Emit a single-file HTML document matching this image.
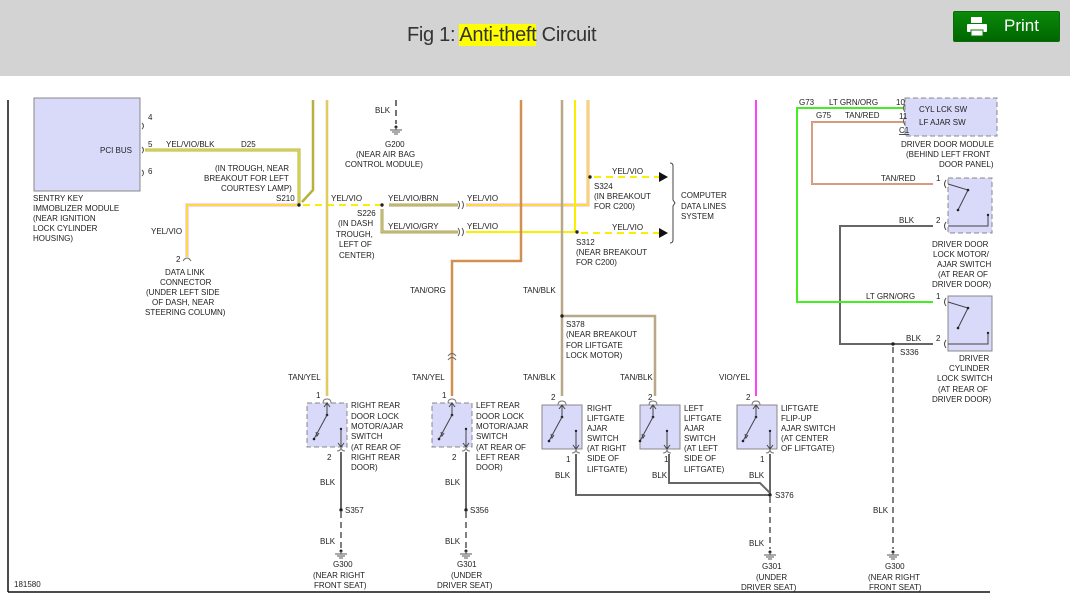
<!DOCTYPE html>
<html><head><meta charset="utf-8"><style>
body{margin:0;width:1070px;height:600px;overflow:hidden;background:#fff;font-family:"Liberation Sans",sans-serif}
#hdr{position:absolute;left:0;top:0;width:1070px;height:76px;background:#d3d3d3}
#title{position:absolute;left:407px;top:24px;font-size:20px;color:#333;letter-spacing:-0.3px}
#title span{background:#ffff00}
#print{position:absolute;left:953px;top:11px;width:105px;height:29px;background:linear-gradient(#0a8a0a,#006600);border-radius:2px;border:1px solid #0a6a0a;color:#fff;font-size:17px}
svg{position:absolute;left:0;top:0}
svg text{font-family:"Liberation Sans",sans-serif;font-size:8px;fill:#222}
</style></head><body>
<div id="hdr"></div>
<div id="title">Fig 1: <span>Anti-theft</span> Circuit</div>
<div id="print"><svg width="24" height="22" style="left:11px;top:4px"><rect x="6" y="1" width="11" height="6" fill="#fff"/><rect x="2" y="8" width="20" height="8" rx="1" fill="#fff"/><rect x="6" y="14" width="12" height="6" fill="#fff" stroke="#0a7a0a"/></svg><span style="position:absolute;left:50px;top:4px">Print</span></div>
<svg width="1070" height="600" viewBox="0 0 1070 600">
<defs>
<g id="sw">
<path d="M20 -4 q-4 0 -4 4 M20 -4 q4 0 4 4" fill="none" stroke="#777" stroke-width="1"/>
<line x1="20" y1="0" x2="20" y2="12" stroke="#444"/><path d="M17 4 L20 0 L23 4" fill="none" stroke="#444"/>
<circle cx="20" cy="12" r="1.3" fill="#222"/><line x1="20" y1="12" x2="7" y2="36" stroke="#444"/><circle cx="7" cy="36" r="1.3" fill="#222"/><path d="M9 29 L10 33 L12 30" fill="none" stroke="#444"/>
<line x1="34" y1="26" x2="34" y2="44" stroke="#444"/><circle cx="34" cy="26" r="1.2" fill="#222"/><path d="M31 40 L34 44 L37 40" fill="none" stroke="#444"/>
<path d="M30 48 q4 0 4 -4 M38 48 q-4 0 -4 -4" fill="none" stroke="#777" stroke-width="1"/>
</g>
<g id="gnd"><circle cx="0" cy="0" r="1.5" fill="#222"/><line x1="-6" y1="3" x2="6" y2="3" stroke="#555"/><line x1="-4" y1="5" x2="4" y2="5" stroke="#555"/><line x1="-2" y1="7" x2="2" y2="7" stroke="#555"/><line x1="0" y1="0" x2="0" y2="3" stroke="#555"/></g>
</defs>
<!-- frame -->
<line x1="8" y1="100" x2="8" y2="592" stroke="#111" stroke-width="1.5"/>
<line x1="8" y1="592" x2="990" y2="592" stroke="#111" stroke-width="1.5"/>
<text x="14" y="587">181580</text>

<!-- sentry key module -->
<rect x="34" y="98" width="106" height="93" fill="#d9d9f9" stroke="#888"/>
<text x="100" y="153">PCI BUS</text>
<text x="148" y="120">4</text><text x="148" y="147">5</text><text x="148" y="174">6</text>
<path d="M142 123 q3 3 0 6 M142 147 q3 3 0 6 M142 170 q3 3 0 6" fill="none" stroke="#555"/>
<text x="33" y="201">SENTRY KEY</text><text x="33" y="211">IMMOBLIZER MODULE</text><text x="33" y="221">(NEAR IGNITION</text><text x="33" y="231">LOCK CYLINDER</text><text x="33" y="241">HOUSING)</text>
<!-- YEL/VIO/BLK -->
<path d="M145 150 H299 V205" fill="none" stroke="#b8b040" stroke-width="3"/><path d="M145 150 H299 V205" fill="none" stroke="#f0ec60" stroke-width="1"/>
<text x="166" y="147">YEL/VIO/BLK</text><text x="241" y="147">D25</text>
<text x="215" y="171">(IN TROUGH, NEAR</text><text x="204" y="181">BREAKOUT FOR LEFT</text><text x="221" y="191">COURTESY LAMP)</text><text x="276" y="201">S210</text>
<!-- olive from top -->
<path d="M313 100 V190 L302 202" fill="none" stroke="#b8b040" stroke-width="2.5"/>
<!-- data link -->
<path d="M299 205 H187 V257" fill="none" stroke="#f4a8f0" stroke-width="3"/><path d="M299 205 H187 V257" fill="none" stroke="#f8f000" stroke-width="1.5"/>
<path d="M183 261 q4 -6 8 0" fill="none" stroke="#666"/>
<text x="151" y="234">YEL/VIO</text><text x="176" y="262">2</text>
<text x="165" y="275">DATA LINK</text><text x="160" y="285">CONNECTOR</text><text x="146" y="295">(UNDER LEFT SIDE</text><text x="152" y="305">OF DASH, NEAR</text><text x="145" y="315">STEERING COLUMN)</text>
<circle cx="299" cy="205" r="1.7" fill="#222"/>
<!-- dashed yel/vio -->
<line x1="303" y1="205" x2="380" y2="205" stroke="#f8f000" stroke-width="2" stroke-dasharray="7,5"/>
<text x="331" y="201">YEL/VIO</text>
<!-- tan/yel vertical -->
<line x1="327" y1="100" x2="327" y2="396" stroke="#d4c060" stroke-width="2.5"/><line x1="327" y1="100" x2="327" y2="396" stroke="#f0e060" stroke-width="0.8"/>
<!-- G200 -->
<line x1="396" y1="100" x2="396" y2="124" stroke="#444" stroke-width="1.5" stroke-dasharray="6,4"/>
<text x="375" y="113">BLK</text><use href="#gnd" x="396" y="127"/>
<text x="385" y="147">G200</text><text x="356" y="157">(NEAR AIR BAG</text><text x="345" y="167">CONTROL MODULE)</text>
<!-- S226 -->
<circle cx="382" cy="205" r="1.7" fill="#222"/>
<path d="M389 205 H458 M382 209 V232 H458" fill="none" stroke="#a8a060" stroke-width="3"/>
<path d="M389 205 H458 M382 209 V232 H458" fill="none" stroke="#e8e080" stroke-width="0.8"/>
<path d="M458 201 q3 4 0 8 M462 201 q3 4 0 8 M458 228 q3 4 0 8 M462 228 q3 4 0 8" fill="none" stroke="#555"/>
<text x="388" y="201">YEL/VIO/BRN</text><text x="388" y="229">YEL/VIO/GRY</text>
<text x="357" y="216">S226</text><text x="338" y="226">(IN DASH</text><text x="336" y="237">TROUGH,</text><text x="339" y="247">LEFT OF</text><text x="339" y="258">CENTER)</text>
<path d="M466 205 H588 V100" fill="none" stroke="#f4a8f0" stroke-width="3"/><path d="M466 205 H588 V100" fill="none" stroke="#f8f000" stroke-width="1.5"/>
<path d="M466 232 H575" fill="none" stroke="#f8f000" stroke-width="2"/>
<line x1="575" y1="100" x2="575" y2="232" stroke="#f8f000" stroke-width="2"/>
<text x="467" y="201">YEL/VIO</text><text x="467" y="229">YEL/VIO</text>
<!-- tan/org -->
<path d="M521 100 V261 H452 V396" fill="none" stroke="#d09050" stroke-width="2.5"/>
<path d="M448 356 q4 -5 8 0 M448 360 q4 -5 8 0" fill="none" stroke="#666"/>
<text x="410" y="293">TAN/ORG</text>
<!-- tan/blk -->
<path d="M562 100 V396 M562 316 H655 V396" fill="none" stroke="#b8a888" stroke-width="2.5"/>
<circle cx="562" cy="316" r="1.7" fill="#222"/>
<text x="523" y="293">TAN/BLK</text>
<text x="566" y="327">S378</text><text x="566" y="337">(NEAR BREAKOUT</text><text x="566" y="348">FOR LIFTGATE</text><text x="566" y="358">LOCK MOTOR)</text>
<text x="523" y="380">TAN/BLK</text><text x="620" y="380">TAN/BLK</text>
<!-- S324/S312 -->
<circle cx="590" cy="177" r="1.7" fill="#222"/><circle cx="577" cy="232" r="1.7" fill="#222"/>
<line x1="594" y1="177" x2="660" y2="177" stroke="#f8f000" stroke-width="2" stroke-dasharray="7,5"/>
<line x1="581" y1="233" x2="660" y2="233" stroke="#f8f000" stroke-width="2" stroke-dasharray="7,5"/>
<path d="M659 172 L668 177 L659 182 Z M659 228 L668 233 L659 238 Z" fill="#111"/>
<text x="612" y="174">YEL/VIO</text><text x="612" y="230">YEL/VIO</text>
<text x="594" y="189">S324</text><text x="594" y="199">(IN BREAKOUT</text><text x="594" y="209">FOR C200)</text>
<text x="576" y="245">S312</text><text x="576" y="255">(NEAR BREAKOUT</text><text x="576" y="265">FOR C200)</text>
<path d="M670 163 q3 0 3 3 V200 l2 3 l-2 3 V240 q0 3 -3 3" fill="none" stroke="#444"/>
<text x="681" y="198">COMPUTER</text><text x="681" y="209">DATA LINES</text><text x="681" y="219">SYSTEM</text>
<!-- magenta -->
<line x1="756" y1="100" x2="756" y2="396" stroke="#ff00ff" stroke-width="1.5"/>
<text x="719" y="380">VIO/YEL</text>

<!-- bottom switches -->
<g><rect x="307" y="403" width="40" height="44" fill="#d9d9f9" stroke="#888" stroke-dasharray="5,3"/><use href="#sw" x="307" y="403"/></g>
<g><rect x="432" y="403" width="40" height="44" fill="#d9d9f9" stroke="#888" stroke-dasharray="5,3"/><use href="#sw" x="432" y="403"/></g>
<g><rect x="542" y="405" width="40" height="44" fill="#d9d9f9" stroke="#888"/><use href="#sw" x="542" y="405"/></g>
<g><rect x="640" y="405" width="40" height="44" fill="#d9d9f9" stroke="#888"/><use href="#sw" x="633" y="405"/></g>
<g><rect x="737" y="405" width="40" height="44" fill="#d9d9f9" stroke="#888"/><use href="#sw" x="736" y="405"/></g>
<text x="288" y="380">TAN/YEL</text><text x="412" y="380">TAN/YEL</text>
<text x="316" y="398">1</text><text x="442" y="398">1</text><text x="551" y="400">2</text><text x="648" y="400">2</text><text x="746" y="400">2</text>
<text x="327" y="460">2</text><text x="452" y="460">2</text><text x="566" y="462">1</text><text x="664" y="462">1</text><text x="760" y="462">1</text>
<text x="351" y="408">RIGHT REAR</text><text x="351" y="419">DOOR LOCK</text><text x="351" y="429">MOTOR/AJAR</text><text x="351" y="439">SWITCH</text><text x="351" y="450">(AT REAR OF</text><text x="351" y="460">RIGHT REAR</text><text x="351" y="470">DOOR)</text>
<text x="476" y="408">LEFT REAR</text><text x="476" y="419">DOOR LOCK</text><text x="476" y="429">MOTOR/AJAR</text><text x="476" y="439">SWITCH</text><text x="476" y="450">(AT REAR OF</text><text x="476" y="460">LEFT REAR</text><text x="476" y="470">DOOR)</text>
<text x="587" y="411">RIGHT</text><text x="587" y="421">LIFTGATE</text><text x="587" y="431">AJAR</text><text x="587" y="441">SWITCH</text><text x="587" y="451">(AT RIGHT</text><text x="587" y="461">SIDE OF</text><text x="587" y="472">LIFTGATE)</text>
<text x="684" y="411">LEFT</text><text x="684" y="421">LIFTGATE</text><text x="684" y="431">AJAR</text><text x="684" y="441">SWITCH</text><text x="684" y="451">(AT LEFT</text><text x="684" y="461">SIDE OF</text><text x="684" y="472">LIFTGATE)</text>
<text x="781" y="411">LIFTGATE</text><text x="781" y="421">FLIP-UP</text><text x="781" y="431">AJAR SWITCH</text><text x="781" y="441">(AT CENTER</text><text x="781" y="451">OF LIFTGATE)</text>
<!-- BLK ground wires -->
<g stroke="#666" stroke-width="2" fill="none">
<path d="M341 452 V510 M466 452 V510"/>
<path d="M576 454 V495 H770 M669 454 V483 H760 L770 493 M770 454 V495"/>
<path d="M933 226 H840 V344 H933"/>
</g>
<g stroke="#555" stroke-width="1.5" stroke-dasharray="6,4" fill="none">
<path d="M341 512 V548 M466 512 V548 M770 497 V549 M893 347 V549"/>
</g>
<circle cx="341" cy="510" r="1.7" fill="#222"/><circle cx="466" cy="510" r="1.7" fill="#222"/><circle cx="770" cy="495" r="1.7" fill="#222"/>
<text x="320" y="485">BLK</text><text x="445" y="485">BLK</text><text x="345" y="513">S357</text><text x="470" y="513">S356</text>
<text x="320" y="544">BLK</text><text x="445" y="544">BLK</text>
<use href="#gnd" x="341" y="551"/><use href="#gnd" x="466" y="551"/><use href="#gnd" x="770" y="552"/><use href="#gnd" x="893" y="552"/>
<text x="333" y="567">G300</text><text x="313" y="578">(NEAR RIGHT</text><text x="314" y="588">FRONT SEAT)</text>
<text x="457" y="567">G301</text><text x="451" y="578">(UNDER</text><text x="437" y="588">DRIVER SEAT)</text>
<text x="555" y="478">BLK</text><text x="652" y="478">BLK</text><text x="749" y="478">BLK</text><text x="775" y="498">S376</text><text x="749" y="546">BLK</text>
<text x="762" y="569">G301</text><text x="756" y="580">(UNDER</text><text x="741" y="590">DRIVER SEAT)</text>
<text x="873" y="513">BLK</text>
<text x="885" y="569">G300</text><text x="868" y="580">(NEAR RIGHT</text><text x="869" y="590">FRONT SEAT)</text>

<!-- right side -->
<rect x="905" y="98" width="92" height="38" fill="#d9d9f9" stroke="#888" stroke-dasharray="5,3"/>
<text x="919" y="112">CYL LCK SW</text><text x="919" y="125">LF AJAR SW</text>
<path d="M905 104 q-3 4 0 8 M905 117 q-3 4 0 8" fill="none" stroke="#555"/>
<text x="896" y="105">10</text><text x="899" y="119">11</text><text x="899" y="133" text-decoration="underline">C1</text>
<text x="799" y="105">G73</text><text x="829" y="105">LT GRN/ORG</text>
<text x="816" y="118">G75</text><text x="845" y="118">TAN/RED</text>
<path d="M903 108 H797 V302 H933" fill="none" stroke="#44ee22" stroke-width="2"/>
<path d="M903 122 H812 V184 H933" fill="none" stroke="#d08868" stroke-width="2"/><path d="M903 122 H812 V184 H933" fill="none" stroke="#e8d0c0" stroke-width="0.6"/>
<text x="901" y="147">DRIVER DOOR MODULE</text><text x="906" y="157">(BEHIND LEFT FRONT</text><text x="939" y="167">DOOR PANEL)</text>
<text x="881" y="181">TAN/RED</text><text x="936" y="181">1</text>
<text x="899" y="223">BLK</text><text x="936" y="223">2</text>
<text x="866" y="299">LT GRN/ORG</text><text x="936" y="299">1</text>
<text x="906" y="341">BLK</text><text x="936" y="341">2</text>
<circle cx="893" cy="344" r="1.7" fill="#222"/><text x="900" y="355">S336</text>
<rect x="948" y="178" width="44" height="55" fill="#d9d9f9" stroke="#888" stroke-dasharray="5,3"/>
<rect x="948" y="296" width="44" height="55" fill="#d9d9f9" stroke="#888"/>
<g stroke="#444" fill="none">
<path d="M946 180 q-3 4 0 8 M946 222 q-3 4 0 8 M946 298 q-3 4 0 8 M946 340 q-3 4 0 8"/>
<path d="M948 184 L968 190 L958 210 M948 302 L968 308 L958 328 M948 226 H988 V215 M948 344 H988 V333"/>
</g>
<circle cx="968" cy="190" r="1.3" fill="#222"/><circle cx="958" cy="210" r="1.3" fill="#222"/><circle cx="968" cy="308" r="1.3" fill="#222"/><circle cx="958" cy="328" r="1.3" fill="#222"/>
<circle cx="988" cy="215" r="1.2" fill="#222"/><circle cx="988" cy="333" r="1.2" fill="#222"/>
<text x="932" y="247">DRIVER DOOR</text><text x="933" y="257">LOCK MOTOR/</text><text x="937" y="267">AJAR SWITCH</text><text x="938" y="277">(AT REAR OF</text><text x="932" y="287">DRIVER DOOR)</text>
<text x="959" y="361">DRIVER</text><text x="949" y="371">CYLINDER</text><text x="937" y="381">LOCK SWITCH</text><text x="938" y="392">(AT REAR OF</text><text x="932" y="402">DRIVER DOOR)</text>
</svg>
</body></html>
